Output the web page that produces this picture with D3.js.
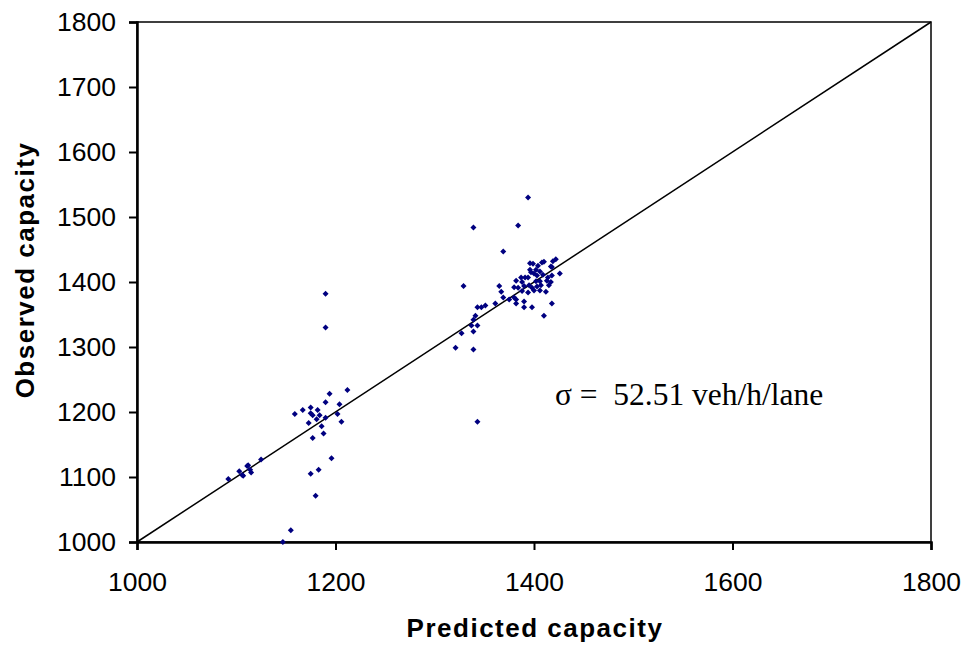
<!DOCTYPE html>
<html>
<head>
<meta charset="utf-8">
<script src="https://cdn.jsdelivr.net/npm/d3@7"></script>
<style>
  body { margin: 0; background: #fff; }
  svg text { font-family: "Liberation Sans", Arial, sans-serif; }
</style>
</head>
<body>
<svg id="chart" width="968" height="646"></svg>
<script>
// axis ticks
const xTicks = [1000, 1200, 1400, 1600, 1800];
const yTicks = [1000, 1100, 1200, 1300, 1400, 1500, 1600, 1700, 1800];

// predicted / observed capacity
const predicted = [
  1092, 1103, 1106, 1107, 1111, 1112, 1114, 1115, 1125,
  1212, 1194, 1190, 1204, 1159, 1167, 1175, 1182, 1175, 1177, 1184, 1181, 1190, 1202,
  1173, 1186, 1206, 1177, 1188, 1196, 1183, 1175, 1180, 1155, 1147, 1190, 1190,
  1394, 1339, 1384, 1369, 1329, 1321, 1339, 1327, 1339, 1337, 1343, 1339, 1341,
  1343, 1347, 1351, 1361, 1365, 1367, 1369, 1375, 1380, 1382, 1382, 1390, 1390,
  1398, 1410, 1418, 1426, 1343,
  1396, 1399, 1408, 1410, 1419, 1422, 1417, 1404, 1396, 1400, 1403, 1409, 1414, 1418,
  1387, 1391, 1394, 1382, 1388, 1402, 1406, 1413, 1417, 1380, 1384, 1390, 1395, 1398,
  1403, 1407, 1415, 1388, 1394, 1400, 1406, 1412, 1418, 1397, 1402, 1406
];
const observed = [
  1097, 1109, 1103, 1102, 1117, 1118, 1111, 1107, 1127,
  1234, 1228, 1215, 1212, 1197, 1203, 1207, 1203, 1198, 1195, 1195, 1189, 1191, 1197,
  1183, 1178, 1185, 1160, 1167, 1129, 1111, 1105, 1071, 1018, 1000, 1382, 1330,
  1530, 1484, 1487, 1447, 1394, 1299, 1296, 1321, 1324, 1333, 1333, 1342, 1348,
  1361, 1361, 1364, 1367, 1394, 1385, 1376, 1373, 1376, 1373, 1367, 1370, 1361,
  1361, 1348, 1367, 1413, 1185,
  1429, 1428, 1430, 1431, 1432, 1435, 1424, 1425, 1419, 1413, 1410, 1411, 1407, 1410,
  1407, 1407, 1407, 1402, 1400, 1401, 1401, 1402, 1400, 1392, 1391, 1394, 1395, 1391,
  1393, 1395, 1395, 1386, 1384, 1387, 1387, 1385, 1423, 1415, 1419, 1416
];
const sigmaLabel = "\u03c3 =  52.51 veh/h/lane";

const svg = d3.select("#chart");
const m = { left: 137, right: 931, top: 22, bottom: 542 };

const x = d3.scaleLinear().domain([1000, 1800]).range([m.left, m.right]);
const y = d3.scaleLinear().domain([1000, 1800]).range([m.bottom, m.top]);

// frame
svg.append("rect")
  .attr("x", m.left).attr("y", m.top)
  .attr("width", m.right - m.left).attr("height", m.bottom - m.top)
  .attr("fill", "none").attr("stroke", "#000").attr("stroke-width", 1.5);

// axes
const fmt = d3.format("d");
const xAxis = svg.append("g")
  .attr("transform", `translate(0,${m.bottom})`)
  .call(d3.axisBottom(x).tickValues(xTicks).tickFormat(fmt).tickSizeOuter(0).tickSize(8).tickPadding(22));
const yAxis = svg.append("g")
  .attr("transform", `translate(${m.left},0)`)
  .call(d3.axisLeft(y).tickValues(yTicks).tickFormat(fmt).tickSizeOuter(0).tickSize(8).tickPadding(13));

[xAxis, yAxis].forEach(a => {
  a.select(".domain").attr("stroke", "#000").attr("stroke-width", 2.5);
  a.selectAll(".tick line").attr("stroke", "#000").attr("stroke-width", 2);
  a.selectAll(".tick text")
    .attr("fill", "#000")
    .style("font-size", "26.5px")
    .style("font-family", "'Liberation Sans', Arial, sans-serif");
});

// 1:1 line
svg.append("line")
  .attr("x1", x(1000)).attr("y1", y(1000))
  .attr("x2", x(1800)).attr("y2", y(1800))
  .attr("stroke", "#000").attr("stroke-width", 1.5);

// points
const sym = d3.symbol(d3.symbolSquare, 18);
svg.append("g").selectAll("path")
  .data(d3.zip(predicted, observed))
  .join("path")
  .attr("d", sym)
  .attr("transform", d => `translate(${x(d[0])},${y(d[1])}) rotate(45)`)
  .attr("fill", "#000080");

// axis titles
svg.append("text")
  .attr("x", 535)
  .attr("y", 637)
  .attr("text-anchor", "middle")
  .style("font-size", "26px")
  .style("letter-spacing", "1.5px")
  .style("font-weight", "bold")
  .text("Predicted capacity");

svg.append("text")
  .attr("transform", "rotate(-90)")
  .attr("x", -270)
  .attr("y", 34)
  .attr("text-anchor", "middle")
  .style("font-size", "26px")
  .style("letter-spacing", "1.5px")
  .style("font-weight", "bold")
  .text("Observed capacity");

// sigma annotation
svg.append("text")
  .attr("x", 555)
  .attr("y", 405)
  .style("white-space", "pre")
  .style("font-family", "'Liberation Serif', 'Times New Roman', serif")
  .style("font-size", "31.5px")
  .text(sigmaLabel);
</script>
</body>
</html>
